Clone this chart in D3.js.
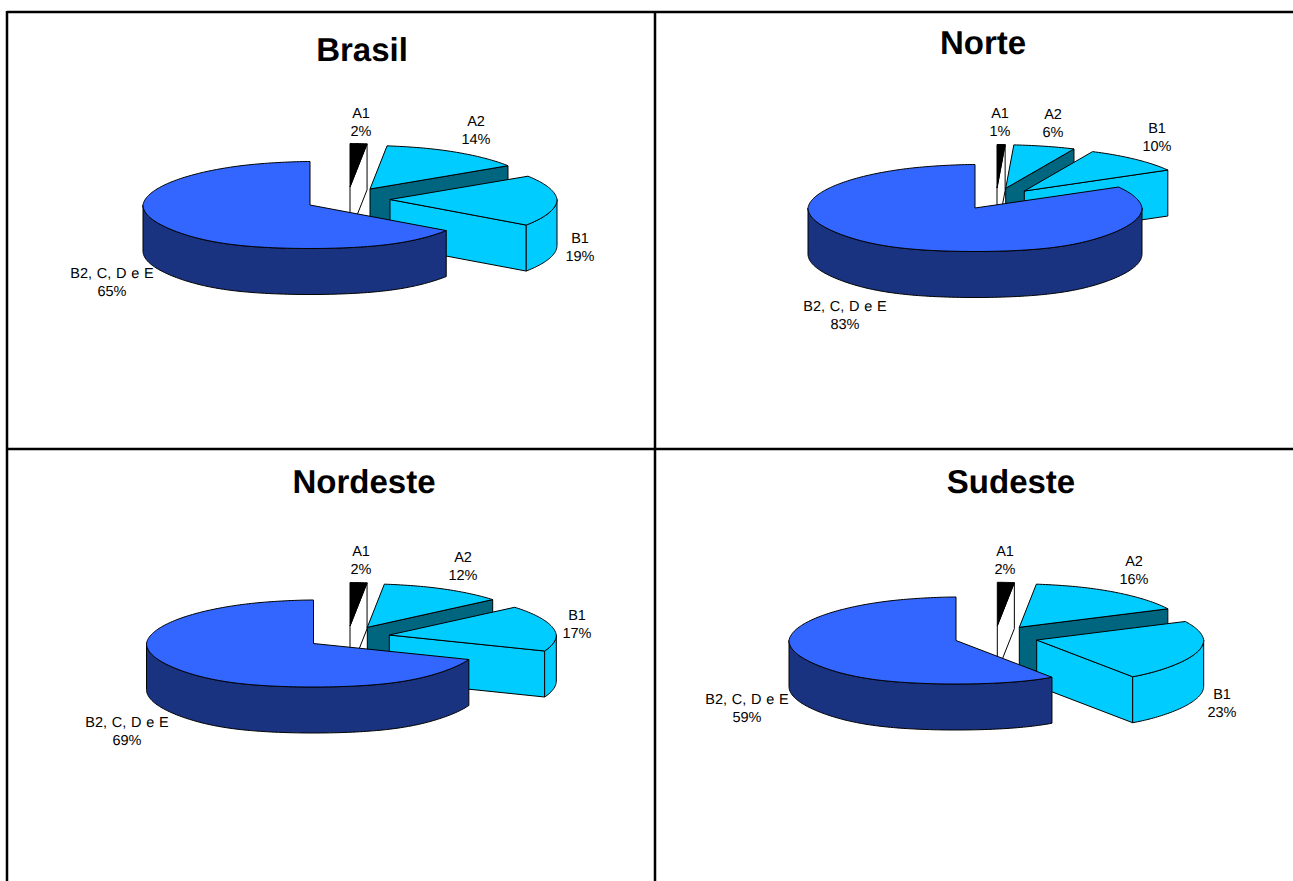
<!DOCTYPE html>
<html>
<head>
<meta charset="utf-8">
<script src="https://cdn.jsdelivr.net/npm/d3@7"></script>
<style>
  html, body { margin: 0; padding: 0; background: #fff; overflow: hidden; }
  text { font-family: "Liberation Sans", Arial, sans-serif; fill: #000; text-rendering: geometricPrecision; }
</style>
</head>
<body>
<svg id="chart" width="1293" height="881"></svg>
<script>
// Economic class shares by region
const categories = ["A1", "A2", "B1", "B2, C, D e E"];
const regions = ["Brasil", "Norte", "Nordeste", "Sudeste"];
const brasilValues = [2, 14, 19, 65];
const norteValues = [1, 6, 10, 83];
const nordesteValues = [2, 12, 17, 69];
const sudesteValues = [2, 16, 23, 59];
const regionValues = [brasilValues, norteValues, nordesteValues, sudesteValues];

// Page layout: title anchors, exploded slice apexes and label anchors, per region
const titleAnchors = [[362, 61], [983, 54], [364, 493], [1011, 493]];
const sliceApexes = [
  [[350, 187], [370, 189], [390, 199.5], [310, 205]],
  [[997, 188], [1005.7, 188.3], [1024.3, 191], [975, 208]],
  [[350, 626], [367.3, 627.3], [389.3, 635], [313.5, 643.5]],
  [[997.3, 625.8], [1019.3, 627.3], [1036.7, 640], [956, 640.5]]
];
const labelAnchors = [
  [[361, 113], [476, 121], [580, 238], [112, 273]],
  [[1000, 113], [1053, 114], [1157, 128], [845, 306]],
  [[361, 551], [463, 557], [577, 615], [127, 722]],
  [[1005, 551], [1134, 561], [1222, 694], [747, 699]]
];

const RX = 167, RY = 43.5, DEPTH = 46;

const topColor = d3.scaleOrdinal(categories, ["#000000", "#00ccff", "#00ccff", "#3366ff"]);
const wallColor = d3.scaleOrdinal(categories, ["#ffffff", "#006680", "#00ccff", "#1a3380"]);

const svg = d3.select("#chart");
const pie = d3.pie().sort(null);
const outline = d3.line();

// Rim point of a pie angle (clockwise from 12 o'clock) under the tilted view;
// the far edge narrows and the near edge widens slightly, as in perspective.
function rim(apex, t, dy = 0) {
  const c = Math.cos(t);
  const far = Math.max(0, c), near = Math.max(0, -c);
  const persp = 1 - 0.04 * far - 0.2 * Math.pow(far, 40) + 0.2 * Math.pow(near, 6);
  return [apex[0] + RX * Math.sin(t) * persp, apex[1] - RY * c + dy];
}

function arcPoints(apex, a0, a1, dy = 0) {
  const steps = Math.max(2, Math.ceil(Math.abs(a1 - a0) / 0.02));
  return d3.range(steps + 1).map(i => rim(apex, a0 + (a1 - a0) * i / steps, dy));
}

function drawSlice(g, arc, apex, name) {
  const paint = (pts, fill) => g.append("path")
    .attr("d", outline(pts) + "Z")
    .attr("fill", fill)
    .attr("stroke", "#000")
    .attr("stroke-width", 1)
    .attr("stroke-linejoin", "round");

  const a0 = arc.startAngle, a1 = arc.endAngle;
  const under = [apex[0], apex[1] + DEPTH];

  // cut face on the closing side of the slice, visible while it turns toward the viewer
  if (Math.sin(a1) > 0.001) {
    paint([apex, rim(apex, a1), rim(apex, a1, DEPTH), under], wallColor(name));
  }
  // outer wall along the near half of the rim
  const lo = Math.max(a0, Math.PI / 2), hi = Math.min(a1, 3 * Math.PI / 2);
  if (hi > lo) {
    paint(arcPoints(apex, lo, hi).concat(arcPoints(apex, hi, lo, DEPTH)), wallColor(name));
  }
  // top face
  paint([apex].concat(arcPoints(apex, a0, a1)), topColor(name));
}

regions.forEach((region, r) => {
  const g = svg.append("g").attr("class", "pie");
  const arcs = pie(regionValues[r]);
  arcs.forEach((arc, i) => drawSlice(g, arc, sliceApexes[r][i], categories[i]));

  arcs.forEach((arc, i) => {
    const [x, y] = labelAnchors[r][i];
    const label = g.append("text").attr("text-anchor", "middle")
      .attr("font-size", 14.5).attr("word-spacing", 0.7);
    label.append("tspan").attr("x", x).attr("y", y + 5).text(categories[i]);
    label.append("tspan").attr("x", x).attr("y", y + 23).text(arc.value + "%");
  });

  svg.append("text")
    .attr("x", titleAnchors[r][0]).attr("y", titleAnchors[r][1])
    .attr("text-anchor", "middle")
    .attr("font-size", 33)
    .attr("font-weight", "bold")
    .text(region);
});

// Panel frame
const frame = [
  [[7, 12], [1293, 12]],
  [[7, 449], [1293, 449]],
  [[7, 11], [7, 881]],
  [[655, 12], [655, 881]]
];
svg.selectAll("path.frame").data(frame).join("path")
  .attr("class", "frame")
  .attr("d", d => outline(d))
  .attr("fill", "none")
  .attr("stroke", "#000")
  .attr("stroke-width", 2.5);
</script>
</body>
</html>
